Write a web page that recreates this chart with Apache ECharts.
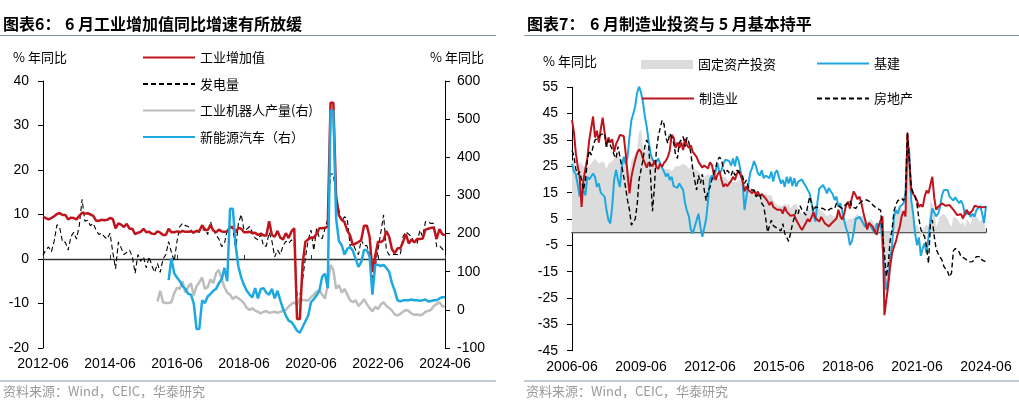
<!DOCTYPE html>
<html>
<head>
<meta charset="utf-8">
<script src="https://cdn.jsdelivr.net/npm/echarts/dist/echarts.min.js"></script>
<style>
html, body { margin: 0; padding: 0; background: #fff; }
#main { width: 1019px; height: 414px; }
</style>
</head>
<body>
<div id="main"></div>
<script>
// ---- 图表6 data: 2012-06 .. 2024-06, % yoy ----
var ivaYoY = [9.5, 9.2, 8.9, 9.2, 9.6, 10.1, 10.3,
  9.9, 9.9, 8.9, 9.3, 9.2, 8.9, 9.7, 10.4, 10.2, 10.3, 10.0, 9.7,
  8.6, 8.6, 8.8, 8.7, 8.8, 9.2, 9.0, 6.9, 8.0, 7.7, 7.2, 7.9,
  6.8, 6.8, 5.6, 5.9, 6.1, 6.8, 6.0, 6.1, 5.7, 5.6, 6.2, 5.9,
  5.4, 5.4, 6.8, 6.0, 6.0, 6.2, 6.0, 6.3, 6.1, 6.1, 6.2, 6.0,
  6.3, 6.3, 7.6, 6.5, 6.5, 7.6, 6.4, 6.0, 6.6, 6.2, 6.1, 6.2,
  7.2, 7.2, 6.0, 7.0, 6.8, 6.0, 6.0, 6.1, 5.8, 5.9, 5.4, 5.7,
  5.3, 5.3, 8.5, 5.4, 5.0, 6.3, 4.8, 4.4, 5.8, 4.7, 6.2, 6.9,
  -13.5, -13.5, -1.1, 3.9, 4.4, 4.8, 4.8, 5.6, 6.9, 6.9, 7.0, 7.3,
  35.1, 35.1, 14.1, 9.8, 8.8, 8.3, 6.4, 5.3, 3.1, 3.5, 3.8, 4.3,
  7.5, 7.5, 5.0, -2.9, 0.7, 3.9, 3.8, 4.2, 6.3, 5.0, 2.2, 1.3,
  2.4, 2.4, 3.9, 5.6, 3.5, 4.4, 3.7, 4.5, 4.5, 4.6, 6.6, 6.8,
  7.0, 7.0, 4.5, 6.7, 5.6, 5.3];
var powerYoY = [0.8, 2.1, 2.7, 1.6, 4.0, 7.7, 7.0,
  3.8, 3.8, 2.0, 5.0, 6.0, 4.5, 7.5, 13.4, 8.5, 8.7, 7.5, 8.0,
  6.5, 5.5, 5.8, 5.0, 4.5, 5.8, 1.5, -2.2, 3.8, 2.5, 1.0, 1.5,
  2.0, 0.5, -3.2, 1.0, -0.5, 0.5, -2.0, 0.5, -1.5, -3.0, -1.0, -3.0,
  0.0, 1.0, 3.9, 1.5, -0.5, 4.0, 7.3, 8.0, 7.5, 7.3, 6.5, 5.6,
  6.2, 6.0, 6.3, 7.0, 5.5, 8.4, 6.5, 5.4, 4.5, 2.8, 3.5, 6.5,
  7.0, 7.0, 2.0, 8.0, 10.0, 6.5, 6.7, 7.3, 6.0, 4.7, 4.3, 5.5,
  2.9, 2.9, 6.0, 4.0, 0.5, 2.0, 1.0, 3.0, 4.0, 3.5, 4.3, 3.5,
  -8.2, -8.2, -4.6, 0.3, 4.3, 6.5, 1.9, 6.8, 4.7, 4.6, 6.8, 9.0,
  19.1, 19.1, 14.0, 11.0, 8.4, 9.5, 9.0, 3.0, 3.5, 2.0, 1.0, 4.3,
  3.0, 3.0, 1.0, -4.3, -1.7, 2.0, 6.0, 9.9, 2.0, 0.9, 1.0, 1.0,
  1.0, 1.0, 5.1, 6.1, 5.6, 5.0, 3.6, 3.5, 6.5, 5.0, 8.4, 8.3,
  8.0, 8.0, 2.8, 3.0, 2.3, 1.7];
// right axis series, starting later
var robotStart = '2015-11';
var robotYoY = [22, 50, 20, 18, 18, 20,
  44, 58, 55, 75, 45, 60, 70, 38, 62, 72, 85, 55,
  60, 80, 70, 96, 105, 80, 60, 45, 40, 28, 35, 30,
  25, 17, 5, 0, 4, -2, -5, -9, -5, -3, -8, -6,
  -5, -8, -5, -3, 0, 9, 15, 20, 12, 30, 25, 26,
  24, 33, 40, 48, 52, 40, 30, 65, 118, 105, 55, 65,
  45, 55, 40, 25, 20, 25, 10, 18, 28, 15, 5, -4,
  8, 2, 14, 20, 10, 5, -2, -12, -15, -10, -5, 0,
  -3, -10, -13, -12, -14, -12, -5, -3, 0, 10, 15, 20,
  10, 8];
var nevStart = '2016-03';
var nevYoY = [78, 135, 96, 85, 75, 62, 55, 42, 40, 17, -50, -50,
  25, 18, 35, 42, 50, 55, 70, 80, 110, 75, 265, 265,
  170, 113, 85, 65, 50, 40, 33, 57, 30, 55, 57, 45,
  40, 55, 30, 50, 25, 2, -15, -28, -32, -42, -55, -60,
  -45, -30, -15, 20, 28, 38, 50, 87, 95, 57, 522, 522,
  240, 180, 170, 145, 160, 165, 155, 133, 113, 125, 157, 157,
  140, 40, 118, 118, 115, 118, 110, 100, 70, 50, 25, 22,
  25, 25, 25, 27, 25, 25, 24, 25, 27, 22, 23, 25,
  25, 30, 33, 33];

// ---- 图表7 data: 2006-06 .. 2024-06, % yoy ----
var faiYoY = [27, 28, 24, 22, 27, 26, 25,
  25, 25, 25, 26, 27, 28, 27, 26, 26, 27, 26, 24,
  26, 26, 27, 28, 28, 29, 28, 27, 29, 28, 26, 23,
  27, 27, 30, 32, 38, 39, 33, 30, 33, 31, 30, 27,
  27, 26, 27, 25, 24, 24, 24, 24, 24, 23, 23, 25,
  25, 25, 25, 26, 26, 25, 24, 25, 25, 24, 24, 23,
  22, 22, 21, 21, 22, 22, 21, 20, 21, 20, 20, 21,
  21, 21, 20, 19, 20, 19, 19, 19, 20, 20, 19, 18,
  18, 18, 17, 17, 16, 16, 15, 14, 14, 14, 15, 14,
  14, 14, 12, 11, 11, 10, 10, 10, 11, 10, 11, 9,
  10, 10, 11, 9, 8, 7, 7, 8, 9, 8, 9, 8,
  9, 9, 9, 8, 8, 7, 6, 6, 7, 6, 6, 6,
  8, 8, 7, 5, 4, 5, 5, 5, 5, 6, 7, 6,
  6, 6, 6, 4, 4, 5, 4, 3, 4, 3, 5, 6,
  -24, -24, -16, -5, 4, 6, 6, 8, 10, 9, 9, 6,
  35, 35, 12, 5, 2, 3, 1, -2, 1, 2, 3, 2,
  12, 12, 9, 2, 4, 6, 6, 7, 7, 5, 3, 2,
  6, 6, 5, 4, 3, 4, 2, 5, 4, 3, 6, 5,
  6, 6, 4, 5, 4, 4];
var infraYoY = [26, 23, 22, 18, 13.5, 12.8, 16,
  14, 21, 20, 19.8, 22.3, 21, 17.2, 18.5, 15, 14.7, 13.5, 8.4,
  4.6, 3.3, 10, 20, 23.6, 19.8, 17.2, 25, 28.6, 26, 28.6, 36.3,
  42.6, 45, 48, 53, 55.3, 53, 49.5, 44, 40, 34.5, 30, 27.4,
  28, 26.7, 28, 26, 25.5, 23, 21.2, 22.3, 19.8, 21, 17.5, 18,
  16.8, 18.5, 17.2, 16, 11, 8, 6, 1, -0.5, -0.5, 4.5, 7,
  2, -1.8, -1.8, 5, 12, 20, 21.5, 20, 23.5, 26, 22.3, 23.5,
  26, 27.5, 27, 27, 25.3, 28, 25, 28.8, 27, 23, 19.2, 8.4,
  13.5, 18, 22.5, 24.5, 27, 25, 22.3, 21.5, 23.5, 20.5, 21.5, 21,
  20.5, 23, 19.2, 22.5, 23.5, 20.8, 18.5, 19.8, 17.2, 21, 18.5, 21,
  17.5, 20.5, 17.3, 19.2, 19.8, 20, 18.5, 17.5, 16, 14.7, 11, 7,
  4, 11, 16.5, 16, 17.9, 16.5, 14.7, 16.8, 15.5, 14.5, 12.2, 13.5,
  9.6, 11, 8, 4.5, 1.5, -0.5, -4.9, -3.5, 0, 5, 5, 5.8,
  4.6, 3.3, 2, 1.5, 3.5, 2, 0.8, -0.5, 3.3, 2, 4.6, 4.6,
  -15, -22, -18, -10, -5, 6, 8.4, 7, 9.6, 9, 11, 15,
  34, 30, 12.2, 7, -0.5, -5, -2, -9, -6, -4.3, -8, -2,
  4, 9, 8.4, 6, 7, 9.6, 14, 16, 15.5, 16, 13.5, 14,
  12, 13.3, 12, 11, 12, 10.3, 6.5, 7.2, 7.8, 5.8, 7, 5.8,
  8.4, 9, 10, 7, 3.5, 10];
var mfgYoY = [42.6, 38, 30, 25, 21, 9.6, 20,
  24, 28, 35, 39.5, 43.9, 36, 38.5, 34, 39, 43.5, 43.5, 32.5,
  36, 34, 35.3, 30.5, 33.5, 35, 36.9, 37.3, 36.5, 30, 22, 14.7,
  21, 24.5, 27.5, 30, 31.4, 30.5, 28, 28.3, 24.5, 26.5, 27, 25,
  27.3, 24.8, 24, 26, 24.8, 26.3, 27.2, 28.6, 31, 36.9, 36, 32,
  34, 32, 34, 31.2, 35.5, 33, 32, 33, 30.5, 31.2, 28.6, 26.7,
  26, 24.5, 25.3, 24.8, 24.2, 26.5, 25.5, 22, 19.8, 22, 23, 19.8,
  17.3, 18.3, 17.5, 18.1, 19.5, 21, 19.8, 22, 23.5, 21.5, 19.5, 15.5,
  17.3, 16, 15.4, 14.8, 15.8, 14.2, 15.4, 13.5, 14.5, 13.9, 12.8, 11.8,
  10.3, 11.5, 9.6, 10, 8.5, 8.2, 8.5, 7.1, 9.6, 7.8, 8, 6.2,
  5.5, 6.5, 4.6, 3.3, 2.0, 0.8, 1.5, 3.5, 5.0, 4, 4.5, 7.5,
  5.5, 6, 4, 5.8, 5.2, 3.3, 2.7, 2.2, 3.0, 3.8, 4.5, 5.2,
  8.5, 6, 4.8, 7, 10.3, 11.5, 9, 13, 15.5, 15.5, 12.5, 13.5,
  11, 7.5, 4.5, 1, 3.5, 3.3, 2, 0.2, -1.0, 2.5, 1.8, 6,
  -31.5, -31.5, -20, -13, -8, -5.5, -3.5, -0.5, 2, 6, 8, 6,
  37.5, 37.5, 16, 14.5, 13.5, 12, 9.6, 10.5, 9.6, 13.5, 15.8, 14.8,
  18, 21, 13, 8.5, 9.6, 9, 10.9, 10.9, 10, 10.5, 10.3, 9.6,
  8.5, 7.5, 6.5, 6, 6.8, 5.2, 7, 8.5, 6.7, 7, 8.3, 10,
  9.6, 9.6, 10, 9.5, 10, 9.6];
var estateYoY = [31, 29, 24, 22, 23, 19.8, 16,
  20, 27, 31, 29.3, 32.5, 35, 34.5, 36, 37, 36.5, 37.5, 32.5,
  35, 33, 31.5, 29.3, 28, 32.5, 28.6, 25, 21, 16.8, 12, 8.4,
  2.7, 2.5, 5, 10.5, 20, 23.6, 27.4, 32.5, 35, 33, 21, 8,
  17, 31.2, 36.3, 39.5, 42.5, 41, 36, 33.7, 37.5, 36, 34, 29.5,
  28, 34, 35, 36.3, 32.5, 36, 34, 30, 24, 19.8, 16, 21.5,
  18.5, 22, 16, 12, 16, 17, 20, 22.5, 24.5, 27.4, 28.5, 27.4,
  24, 22, 23.5, 23, 21.5, 23.5, 21.5, 23.5, 23.5, 22, 21.2, 18.5,
  19.8, 17, 16, 16.3, 16, 13.5, 13.5, 14.7, 10.9, 10, 5.5, 0,
  0.5, 4.5, 2.5, 3, 1.5, 2, 0.5, 3.2, -0.5, -1.8, -3.5, -0.5,
  3, 5.6, 8.4, 7, 10, 8.5, 8, 6.5, 10, 13.5, 11, 8,
  9.6, 9.3, 9.2, 8.5, 9, 8.5, 8, 8.5, 9, 8.5, 9, 11,
  10, 10, 9, 10, 9.6, 11, 12, 9.7, 9.2, 9, 10, 11,
  11.5, 12.2, 11.8, 12.2, 11.5, 11.3, 10.3, 10.3, 9, 9, 8.4, 8.5,
  -8, -17, -12, -3, 1, 8, 10.5, 12, 12.2, 12.8, 12, 14,
  38, 38, 17, 15, 13.5, 10.5, 5, 1, -0.5, -1.8, -5.5, -11.9,
  3, 4.6, -1.5, -6.5, -8.1, -9.4, -10.5, -13, -12.5, -15, -17, -15.5,
  -7, -6.2, -6.8, -7.5, -9.3, -8.7, -10, -10.6, -11.3, -10.6, -11.2, -10.6,
  -9.3, -10, -9.3, -10.6, -10.6, -11.3];

// month labels
function monthList(y, m, n) {
  var out = [];
  for (var i = 0; i < n; i++) {
    var k = m - 1 + i;
    var mm = k % 12 + 1;
    out.push((y + Math.floor(k / 12)) + '-' + (mm < 10 ? '0' : '') + mm);
  }
  return out;
}
var months6 = monthList(2012, 6, ivaYoY.length);
var months7 = monthList(2006, 6, mfgYoY.length);

// series starting later get nulls in front
function alignTo(cats, start, vals) {
  var pad = cats.indexOf(start);
  var out = [];
  for (var i = 0; i < pad; i++) out.push(null);
  return out.concat(vals);
}

var FONT_NUM = 'Liberation Sans, Arial, sans-serif';
var FONT_CJK = 'Noto Sans CJK SC, sans-serif';
var RED = '#c0141c', BLUE = '#1ea8e0', GREY = '#bdbdbd', AREA = '#dcdcdc';
var RULE = '#8096aa';

var chart = echarts.init(document.getElementById('main'));

function yAx(grid, pos, min, max, step, margin) {
  return {
    type: 'value', gridIndex: grid, position: pos,
    min: min, max: max, interval: step,
    axisLine: { show: true, onZero: false, lineStyle: { color: '#000', width: 1 } },
    axisTick: { show: true, length: 5, lineStyle: { color: '#000' } },
    axisLabel: { color: '#000', fontSize: 14, fontFamily: FONT_NUM, margin: margin },
    splitLine: { show: false }
  };
}
function xLabels(grid, cats, step) {
  return {
    type: 'category', gridIndex: grid, data: cats, boundaryGap: false,
    axisLine: { show: false, onZero: false },
    axisTick: { show: false },
    axisLabel: { interval: step, color: '#000', fontSize: 14, fontFamily: FONT_NUM, margin: 9 },
    splitLine: { show: false }
  };
}
function xZero(grid, cats, step, yIdx) {
  return {
    type: 'category', gridIndex: grid, data: cats, boundaryGap: false,
    axisLine: { show: true, onZero: true, onZeroAxisIndex: yIdx, lineStyle: { color: '#333', width: 1.3 } },
    axisTick: { show: true, interval: step, length: 4, lineStyle: { color: '#333' } },
    axisLabel: { show: false },
    splitLine: { show: false }
  };
}
function txt(x, y, s, opt) {
  opt = opt || {};
  return {
    type: 'text', left: x, top: y,
    style: {
      text: s, fill: opt.color || '#000',
      font: (opt.weight || 'normal') + ' ' + (opt.size || 13) + 'px ' + (opt.family || FONT_CJK)
    }
  };
}
function rule(x1, x2, y) {
  return { type: 'line', shape: { x1: x1, y1: y, x2: x2, y2: y }, style: { stroke: RULE, lineWidth: 1 } };
}
// legend showing only the line sample (symbol hidden)
function legendAt(x, y, name, extra) {
  var l = {
    left: x, top: y, padding: 0, orient: 'horizontal', selectedMode: false,
    itemWidth: 52, itemHeight: 12,
    itemStyle: { opacity: 0 },
    textStyle: { color: '#000', fontSize: 13, fontFamily: FONT_CJK },
    data: [name]
  };
  if (extra) { for (var k in extra) l[k] = extra[k]; }
  return l;
}

chart.setOption({
  animation: false,
  backgroundColor: '#fff',
  grid: [
    { left: 43, top: 81, width: 402, height: 267 },
    { left: 572, top: 87.3, width: 414, height: 263.4 }
  ],
  legend: [
    {
      left: 142, top: 51, padding: 0, orient: 'vertical', selectedMode: false,
      itemWidth: 52, itemHeight: 14, itemGap: 13.5,
      itemStyle: { opacity: 0 },
      textStyle: { color: '#000', fontSize: 13, fontFamily: FONT_CJK },
      data: ['工业增加值', '发电量', '工业机器人产量(右)', '新能源汽车（右）']
    },
    legendAt(641, 58, { name: '固定资产投资', icon: 'rect', itemStyle: { color: AREA, opacity: 1 } }, { itemHeight: 9, itemStyle: { opacity: 1 } }),
    legendAt(816, 57, '基建'),
    legendAt(641, 92, '制造业'),
    legendAt(816, 92, '房地产')
  ],
  xAxis: [
    xLabels(0, months6, 23),
    xZero(0, months6, 23, 0),
    xLabels(1, months7, 35),
    xZero(1, months7, 35, 2)
  ],
  yAxis: [
    yAx(0, 'left', -20, 40, 10, 14),
    yAx(0, 'right', -100, 600, 100, 12),
    yAx(1, 'left', -45, 55, 10, 14)
  ],
  series: [
    { name: '工业机器人产量(右)', type: 'line', xAxisIndex: 0, yAxisIndex: 1,
      data: alignTo(months6, robotStart, robotYoY), symbol: 'none',
      lineStyle: { color: GREY, width: 2.5 }, itemStyle: { color: GREY } },
    { name: '发电量', type: 'line', xAxisIndex: 0, yAxisIndex: 0,
      data: powerYoY, symbol: 'none',
      lineStyle: { color: '#000', width: 1.1, type: [5, 3] }, itemStyle: { color: '#000' } },
    { name: '工业增加值', type: 'line', xAxisIndex: 0, yAxisIndex: 0,
      data: ivaYoY, symbol: 'none',
      lineStyle: { color: RED, width: 2.5 }, itemStyle: { color: RED } },
    { name: '新能源汽车（右）', type: 'line', xAxisIndex: 0, yAxisIndex: 1,
      data: alignTo(months6, nevStart, nevYoY), symbol: 'none',
      lineStyle: { color: BLUE, width: 2.5 }, itemStyle: { color: BLUE } },

    { name: '固定资产投资', type: 'line', xAxisIndex: 2, yAxisIndex: 2,
      data: faiYoY, symbol: 'none',
      lineStyle: { width: 0, color: AREA }, itemStyle: { color: AREA },
      areaStyle: { color: AREA, opacity: 1 } },
    { name: '基建', type: 'line', xAxisIndex: 2, yAxisIndex: 2,
      data: infraYoY, symbol: 'none',
      lineStyle: { color: BLUE, width: 2 }, itemStyle: { color: BLUE } },
    { name: '制造业', type: 'line', xAxisIndex: 2, yAxisIndex: 2,
      data: mfgYoY, symbol: 'none',
      lineStyle: { color: RED, width: 2 }, itemStyle: { color: RED } },
    { name: '房地产', type: 'line', xAxisIndex: 2, yAxisIndex: 2,
      data: estateYoY, symbol: 'none',
      lineStyle: { color: '#000', width: 1.4, type: [5, 3] }, itemStyle: { color: '#000' } }
  ],
  graphic: [
    txt(3, 16, '图表6：', { weight: 'bold', size: 16 }),
    txt(65, 16, '6 月工业增加值同比增速有所放缓', { weight: 'bold', size: 16 }),
    txt(527, 16, '图表7：', { weight: 'bold', size: 16 }),
    txt(590, 16, '6 月制造业投资与 5 月基本持平', { weight: 'bold', size: 16 }),
    rule(0, 496, 35.5),
    rule(524, 1019, 35.5),
    rule(0, 496, 381),
    rule(524, 1019, 381),
    txt(13, 51, '% 年同比', { size: 13 }),
    txt(430, 51, '% 年同比', { size: 13 }),
    txt(543, 55, '% 年同比', { size: 13 }),
    txt(3, 385, '资料来源：Wind，CEIC，华泰研究', { size: 13, color: '#9a9a9a' }),
    txt(526, 385, '资料来源：Wind，CEIC，华泰研究', { size: 13, color: '#9a9a9a' })
  ]
});
</script>
</body>
</html>
